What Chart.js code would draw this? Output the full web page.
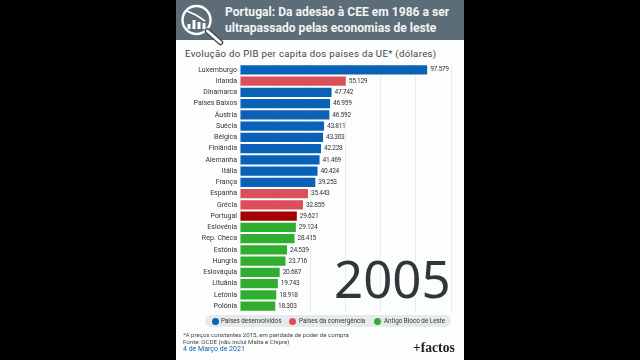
<!DOCTYPE html>
<html lang="pt"><head><meta charset="utf-8">
<script src="https://cdn.jsdelivr.net/npm/chart.js@4"></script>
<style>
html,body{margin:0;padding:0;width:640px;height:360px;background:#000;overflow:hidden;font-family:Roboto,sans-serif}
.abs{position:absolute;white-space:nowrap}
#panel{left:176px;top:0;width:288px;height:360px;background:#fcfdfd}
#head{left:176px;top:0;width:288px;height:40px;background:#5d6d77}
#title{left:225px;top:4px;font:bold 12.1px/16px Roboto,sans-serif;color:#f1f4f5}
#sub{left:185px;top:48px;font:9.6px/12px Roboto,sans-serif;color:#444;letter-spacing:.32px}
#wrap{left:176px;top:57px;width:288px;height:262px}
#year{left:334px;top:245px;font:51px/66px "Noto Sans",sans-serif;color:#30363a}
#legend{left:205px;top:315px;width:246px;height:12px;background:#e7eaec;border-radius:6px}
.it{font:6.3px/12px Roboto,sans-serif;color:#333;top:315px}
.dot{width:7px;height:7px;border-radius:50%;top:318px}
.note{left:183px;font:6.1px/8px Roboto,sans-serif;color:#444}
#date{left:183px;top:344px;font:7px/10px Roboto,sans-serif;color:#0a62b8}
#brand{left:413px;top:340px;font:bold 13.6px/15px "Liberation Serif",serif;color:#222}
svg{position:absolute;left:178px;top:2px}
</style></head><body>
<div id="panel" class="abs"></div><div id="head" class="abs"></div>
<svg width="48" height="44" viewBox="0 0 48 44" fill="none" stroke="#fff">
<circle cx="18.5" cy="18" r="14" stroke-width="2.4"/><path d="M29.5 29L42.5 40.5" stroke="#444" stroke-width="5.5" stroke-linecap="round"/><path d="M29.5 29L42.5 40.5" stroke-width="3" stroke-linecap="round"/>
<path d="M11 22v5M16 18v9M21 20v7M26 21v6" stroke-width="3"/><path d="M9 9L18 13L27 19" stroke-width="1.6"/></svg>
<div id="title" class="abs">Portugal: Da adesão à CEE em 1986 a ser<br>ultrapassado pelas economias de leste</div>
<div id="sub" class="abs">Evolução do PIB per capita dos países da UE* (dólares)</div>
<div id="wrap" class="abs"><canvas id="c" width="288" height="262"></canvas></div>
<div id="year" class="abs">2005</div>
<div id="legend" class="abs"></div>
<div class="abs dot" style="left:212px;background:#0a62b8"></div><div class="abs it" style="left:221px">Países desenvolvidos</div>
<div class="abs dot" style="left:289px;background:#d9505a"></div><div class="abs it" style="left:299px">Países da convergência</div>
<div class="abs dot" style="left:374px;background:#2fae2f"></div><div class="abs it" style="left:384px">Antigo Bloco de Leste</div>
<div class="abs note" style="top:331px">*A preços constantes 2015, em paridade de poder de compra</div>
<div class="abs note" style="top:338px">Fonte: OCDE (não inclui Malta e Chipre)</div>
<div id="date" class="abs">4 de Março de 2021</div>
<div id="brand" class="abs">+factos</div>
<script>
const countries=["Luxemburgo","Irlanda","Dinamarca","Países Baixos","Áustria","Suécia","Bélgica","Finlândia","Alemanha","Itália","França","Espanha","Grécia","Portugal","Eslovénia","Rep. Checa","Estónia","Hungria","Eslováquia","Lituânia","Letónia","Polónia"];
const values=[97579,55129,47742,46959,46592,43811,43303,42228,41469,40424,39253,35443,32855,29621,29124,28415,24539,23716,20687,19743,18918,18303];
const groups=["d","c","d","d","d","d","d","d","d","d","d","c","c","p","l","l","l","l","l","l","l","l"];
const palette={d:"#0a62b8",c:"#d9505a",p:"#a30000",l:"#2fae2f"};
const valueLabels={id:"valueLabels",afterDatasetsDraw(ch){const x=ch.ctx;x.save();x.font='6.6px Roboto,sans-serif';x.letterSpacing="-0.3px";x.fillStyle="#333";x.textBaseline="middle";
ch.getDatasetMeta(0).data.forEach((b,i)=>{x.fillText(String(values[i]).replace(/(\d)(\d{3})$/,"$1.$2"),b.x+3,b.y)});x.restore();}};
new Chart(document.getElementById("c"),{type:"bar",plugins:[valueLabels],
data:{labels:countries,datasets:[{data:values,backgroundColor:groups.map(g=>palette[g]),categoryPercentage:1,barPercentage:.82}]},
options:{indexAxis:"y",responsive:false,animation:false,
layout:{padding:{top:0,bottom:0,left:0,right:13}},
plugins:{legend:{display:false},tooltip:{enabled:false}},
scales:{x:{min:0,max:110000,ticks:{display:false,stepSize:20000},border:{display:false},grid:{color:"#e9ecee",drawTicks:false,lineWidth:1}},
y:{afterFit(s){s.width=64},ticks:{color:"#333",padding:3,autoSkip:false,font:{size:7,family:'Roboto,sans-serif'}},border:{display:false},grid:{display:false,drawTicks:false}}}}});
</script></body></html>
